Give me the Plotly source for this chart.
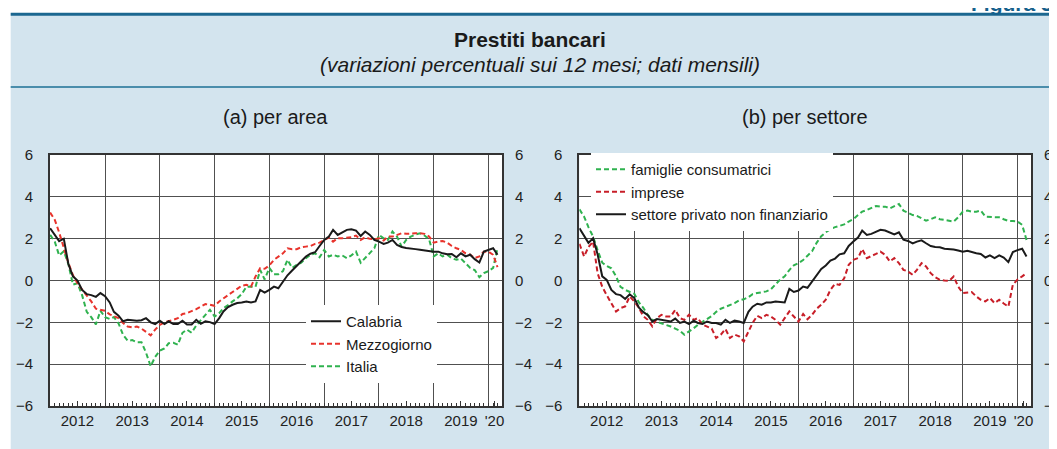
import pandas as pd
import plotly.graph_objects as go

# monthly, Jan 2012 - Mar 2020
months = pd.date_range("2012-01-01", "2020-03-01", freq="MS")

# (a) per area
calabria = [
    2.5, 2.2, 1.88, 2.0, 0.8, 0.2, 0.0, -0.45, -0.65, -0.7, -0.78, -0.6,
    -0.75, -1.05, -1.5, -1.68, -1.95, -1.88, -1.9, -1.92, -1.9, -1.8, -2.0, -2.08,
    -1.92, -2.08, -1.95, -2.08, -2.08, -1.92, -2.1, -2.1, -1.88, -2.07, -1.95, -1.99,
    -2.08, -1.8, -1.48, -1.27, -1.16, -1.08, -1.05, -1.0, -1.05, -1.0, -0.45, -0.58,
    -0.45, -0.29, -0.37, -0.05, 0.25, 0.48, 0.7, 0.95, 1.15, 1.28, 1.35, 1.65,
    1.94, 2.1, 2.42, 2.18, 2.29, 2.42, 2.45, 2.39, 2.13, 2.34, 2.18, 1.94,
    1.86, 1.75, 1.81, 1.94, 1.7, 1.6, 1.55, 1.54, 1.5, 1.47, 1.43, 1.4,
    1.38, 1.38, 1.3, 1.26, 1.27, 1.11, 1.3, 1.15, 1.23, 1.02, 0.86, 1.38,
    1.46, 1.54, 1.23,
]
mezzogiorno = [
    3.25, 2.9, 2.3, 1.5, 0.85, 0.25, -0.13, -0.44, -0.7, -1.0, -1.35, -1.4,
    -1.45, -1.62, -1.69, -1.8, -2.03, -2.2, -2.24, -2.2, -2.3, -2.45, -2.62, -2.35,
    -2.12, -2.0, -1.95, -1.88, -1.8, -1.6, -1.56, -1.48, -1.37, -1.25, -1.13, -1.16,
    -1.21, -1.0, -0.85, -0.68, -0.55, -0.4, -0.25, -0.21, -0.29, 0.19, 0.59, 0.56,
    0.72, 0.99, 1.15, 1.3, 1.54, 1.5, 1.5, 1.59, 1.62, 1.65, 1.75, 1.81,
    1.94, 2.05, 1.86, 2.02, 2.02, 2.05, 2.07, 2.15, 1.94, 2.07, 1.99, 1.97,
    2.02, 1.91, 2.1, 2.1, 2.18, 2.26, 2.23, 2.26, 2.26, 2.26, 2.23, 2.1,
    1.81, 1.86, 1.89, 1.81, 1.65, 1.54, 1.46, 1.3, 1.23, 1.07, 1.15, 1.38,
    1.38, 1.23, 0.64,
]
italia = [
    2.18, 1.85, 1.2, 1.4, 0.8, -0.2, -0.13, -0.7, -1.5, -1.75, -2.1, -1.45,
    -1.75, -1.84, -1.75, -2.05, -2.6, -2.88, -2.85, -2.95, -2.95, -3.45, -4.1, -3.65,
    -3.35, -3.25, -3.0, -2.98, -3.07, -2.5, -2.35, -2.5, -2.15, -1.9, -1.68, -1.4,
    -1.72, -1.56, -1.32, -1.18, -1.0, -0.85, -0.65, -0.3, -0.29, -0.3, 0.5, 0.05,
    0.6, 0.3, 0.3, 0.45, 0.99, 0.6, 0.75, 0.85, 1.07, 1.23, 1.3, 1.11,
    1.46, 1.15, 1.23, 1.15, 1.2, 1.07, 1.2, 1.38, 0.85, 1.07, 1.3, 1.54,
    2.18, 2.02, 1.94, 2.34, 2.1, 1.62, 1.94, 2.1, 2.2, 2.26, 2.15, 1.97,
    1.15, 1.3, 1.15, 1.23, 1.07, 0.99, 1.05, 0.83, 0.6, 0.5, 0.16, 0.35,
    0.45, 0.6, 1.55,
]

# (b) per settore
famiglie = [
    3.4, 3.05, 2.55, 2.1, 1.45, 0.85, 0.7, 0.58, 0.2, -0.3, -0.45, -0.55,
    -0.64, -1.05, -1.3, -1.65, -1.88, -1.98, -2.05, -2.11, -2.2, -2.3, -2.4, -2.59,
    -2.45, -2.28, -2.12, -1.98, -1.85, -1.7, -1.5, -1.35, -1.26, -1.17, -1.08, -0.95,
    -0.9, -0.8, -0.65, -0.6, -0.55, -0.52, -0.42, -0.2, 0.05, 0.2, 0.5, 0.73,
    0.83, 0.98, 1.18, 1.4, 1.8, 2.12, 2.3, 2.45, 2.55, 2.6, 2.68, 2.82,
    2.93, 3.13, 3.29, 3.37, 3.45, 3.56, 3.53, 3.53, 3.45, 3.56, 3.66, 3.34,
    3.25, 3.13, 3.09, 2.98, 2.86, 2.93, 3.02, 2.93, 2.9, 2.85, 2.82, 3.02,
    3.29, 3.34, 3.29, 3.29, 3.34, 3.05, 3.05, 3.02, 3.02, 2.93, 2.85, 2.84,
    2.82, 2.66, 1.94,
]
imprese = [
    1.75, 1.15, 1.6, 1.86, 0.35, -0.3, -0.7, -1.08, -1.48, -1.32, -1.24, -0.76,
    -1.0, -1.32, -1.7, -1.88, -2.19, -1.8, -1.64, -1.72, -1.72, -1.4, -1.8, -1.88,
    -1.64, -1.88, -1.8, -2.11, -2.19, -2.3, -2.75, -2.59, -2.32, -2.75, -2.59, -2.67,
    -2.91, -2.43, -2.03, -1.69, -1.8, -1.64, -1.72, -1.88, -2.11, -1.8, -1.48, -1.72,
    -1.96, -1.6, -1.85, -1.64, -1.35, -1.16, -0.92, -0.45, -0.16, -0.21, 0.11, 0.75,
    0.99, 1.07, 1.5, 1.07, 1.15, 1.27, 1.38, 1.23, 0.91, 1.07, 0.83, 0.51,
    0.43, 0.27, 0.51, 0.83, 0.67, 0.35, 0.16, 0.03, 0.0, -0.02, 0.19, -0.29,
    -0.6, -0.57, -0.55, -0.76, -0.92, -1.0, -0.84, -1.08, -0.92, -1.1, -1.25, -0.2,
    0.05, 0.2, 0.35,
]
settore_privato = [
    2.5, 2.1, 1.8, 2.02, 1.25, 0.2, 0.03, -0.45, -0.65, -0.7, -0.88, -0.66,
    -0.84, -1.3, -1.5, -1.66, -1.96, -1.84, -1.88, -1.92, -1.96, -1.82, -2.03, -1.96,
    -2.08, -1.92, -2.03, -2.08, -1.96, -2.03, -2.03, -2.11, -1.88, -2.03, -1.92, -1.96,
    -2.03, -1.5, -1.25, -1.11, -1.16, -1.05, -1.05, -1.0, -1.02, -1.05, -0.4, -0.55,
    -0.48, -0.29, -0.35, -0.05, 0.3, 0.55, 0.72, 0.95, 1.05, 1.25, 1.3, 1.65,
    1.86, 2.05, 2.39, 2.18, 2.23, 2.34, 2.42, 2.39, 2.3, 2.2, 2.3, 1.95,
    1.89, 1.77, 1.86, 1.92, 1.78, 1.65, 1.6, 1.59, 1.52, 1.51, 1.48, 1.43,
    1.38, 1.42, 1.36, 1.3, 1.27, 1.1, 1.2, 1.07, 1.2, 1.1, 0.88, 1.36,
    1.45, 1.52, 1.15,
]

year_ticks = ["2012-07-01", "2013-07-01", "2014-07-01", "2015-07-01",
              "2016-07-01", "2017-07-01", "2018-07-01", "2019-07-01", "2020-02-10"]
year_labels = ["2012", "2013", "2014", "2015", "2016", "2017", "2018", "2019", "'20"]
year_starts = ["2013-01-01", "2014-01-01", "2015-01-01", "2016-01-01",
               "2017-01-01", "2018-01-01", "2019-01-01", "2020-01-01"]
y_ticks = [-6, -4, -2, 0, 2, 4, 6]

W, H = 1057, 449
OFF = 8  # the page body margin shifts the figure by 8px
BG = "#d3e4ee"
AXIS = "#333333"
GRID = "#505050"
BLACK = "#1a1a1a"
RED = "#e8332c"
GREEN = "#2fb24f"
DARK_RED = "#c81e28"
FONT = "Liberation Sans, Arial, sans-serif"
X_RANGE = ["2011-12-31", "2020-03-31"]


def px_x(px):
    # position in the screenshot -> paper fraction
    return (px - OFF) / W


def px_y(py):
    return 1 - (py - OFF) / H


fig = go.Figure()

# panel (a)
for name, vals, color, dash, rank in [
    ("Italia", italia, GREEN, "5px,3px", 3),
    ("Mezzogiorno", mezzogiorno, RED, "5px,3px", 2),
    ("Calabria", calabria, BLACK, "solid", 1),
]:
    fig.add_trace(go.Scatter(
        x=months, y=vals, mode="lines", name=name, legendrank=rank,
        line=dict(color=color, width=2, dash=dash),
        xaxis="x", yaxis="y", legend="legend",
    ))

# panel (b)
for name, vals, color, dash in [
    ("famiglie consumatrici", famiglie, GREEN, "5px,3px"),
    ("imprese", imprese, DARK_RED, "5px,3px"),
    ("settore privato non finanziario", settore_privato, BLACK, "solid"),
]:
    fig.add_trace(go.Scatter(
        x=months, y=vals, mode="lines", name=name,
        line=dict(color=color, width=2, dash=dash),
        xaxis="x2", yaxis="y2", legend="legend2",
    ))

# invisible traces so the overlay axes (year grid, right labels) get drawn
for xa, ya, vals in [("x3", "y3", calabria), ("x4", "y4", settore_privato)]:
    fig.add_trace(go.Scatter(
        x=months[:1], y=vals[:1], xaxis=xa, yaxis=ya, mode="markers",
        marker=dict(opacity=0), showlegend=False, hoverinfo="skip",
    ))

tick_font = dict(family=FONT, size=15, color="#222222")
y_dom = [px_y(406), px_y(155)]


def main_x(domain, anchor):
    return dict(
        domain=domain, anchor=anchor, type="date", range=X_RANGE,
        tickmode="array", tickvals=year_ticks, ticktext=year_labels,
        ticks="inside", ticklen=5, tickwidth=1, tickcolor=AXIS,
        showgrid=False, zeroline=False, automargin=False,
        showline=True, linewidth=2, linecolor=AXIS, mirror=True,
        tickfont=tick_font, ticklabelstandoff=0,
        minor=dict(tickmode="linear", tick0="2012-01-01", dtick="M1",
                   ticks="inside", ticklen=3, tickwidth=1, tickcolor=AXIS,
                   showgrid=False),
    )


def grid_x(over, anchor):
    return dict(
        overlaying=over, anchor=anchor, type="date", range=X_RANGE,
        tickmode="array", tickvals=year_starts, showticklabels=False,
        ticks="", showgrid=True, gridcolor=GRID, gridwidth=1,
        zeroline=False, showline=False, automargin=False,
    )


def main_y(anchor):
    return dict(
        domain=y_dom, anchor=anchor, range=[-6, 6],
        tickmode="array", tickvals=y_ticks, ticks="",
        showgrid=True, gridcolor=GRID, gridwidth=1, zeroline=False,
        showline=True, linewidth=2, linecolor=AXIS, mirror=True,
        tickfont=tick_font, ticklabelstandoff=12, automargin=False,
    )


def right_y(over, anchor):
    return dict(
        overlaying=over, anchor=anchor, side="right", range=[-6, 6],
        tickmode="array", tickvals=y_ticks, ticks="",
        showgrid=False, zeroline=False, showline=False, automargin=False,
        tickfont=tick_font, ticklabelstandoff=12,
    )


shapes = [
    # white page strips round the blue box
    dict(type="rect", xref="paper", yref="paper", x0=0, x1=1,
         y0=px_y(13), y1=1, fillcolor="white", line_width=0, layer="below"),
    dict(type="rect", xref="paper", yref="paper", x0=0, x1=px_x(10.7),
         y0=0, y1=1, fillcolor="white", line_width=0, layer="below"),
    dict(type="line", xref="paper", yref="paper", x0=px_x(10.7), x1=1,
         y0=px_y(14.3), y1=px_y(14.3), line=dict(color="#1b6790", width=3)),
    dict(type="line", xref="paper", yref="paper", x0=px_x(10.7), x1=1,
         y0=px_y(87), y1=px_y(87), line=dict(color="#4a8dab", width=2)),
]


def label(text, x, y, size, color="#1a1a1a", xanchor="center"):
    return dict(text=text, x=px_x(x), y=px_y(y), xref="paper", yref="paper",
                xanchor=xanchor, yanchor="middle", showarrow=False,
                font=dict(family=FONT, size=size, color=color))


annotations = [
    # figure number, cut by the top edge as in the page
    label("<b>Figura 3.1</b>", 969, 4, 21, color="#15608c", xanchor="left"),
    label("<b>Prestiti bancari</b>", 530, 40, 21),
    label("<i>(variazioni percentuali sui 12 mesi; dati mensili)</i>", 540, 65, 21),
    label("(a) per area", 275, 117, 20),
    label("(b) per settore", 805, 117, 20),
]

legend_style = dict(xanchor="left", yanchor="top", bgcolor="white",
                    borderwidth=0, itemwidth=30, tracegroupgap=0,
                    font=dict(family=FONT, size=15, color="#1a1a1a"))

fig.update_layout(
    width=W, height=H, autosize=False,
    margin=dict(l=0, r=0, t=0, b=0, autoexpand=False),
    paper_bgcolor=BG, plot_bgcolor="white",
    font=dict(family=FONT),
    xaxis=main_x([px_x(50), px_x(502)], "y"),
    yaxis=main_y("x"),
    xaxis2=main_x([px_x(579.3), px_x(1031)], "y2"),
    yaxis2=main_y("x2"),
    xaxis3=grid_x("x", "y3"),
    yaxis3=right_y("y", "x3"),
    xaxis4=grid_x("x2", "y4"),
    yaxis4=right_y("y2", "x4"),
    legend=dict(x=px_x(306), y=px_y(305), **legend_style),
    legend2=dict(x=px_x(591), y=px_y(153), **legend_style),
    shapes=shapes,
    annotations=annotations,
    hovermode=False,
)

fig.write_html("out.html")
